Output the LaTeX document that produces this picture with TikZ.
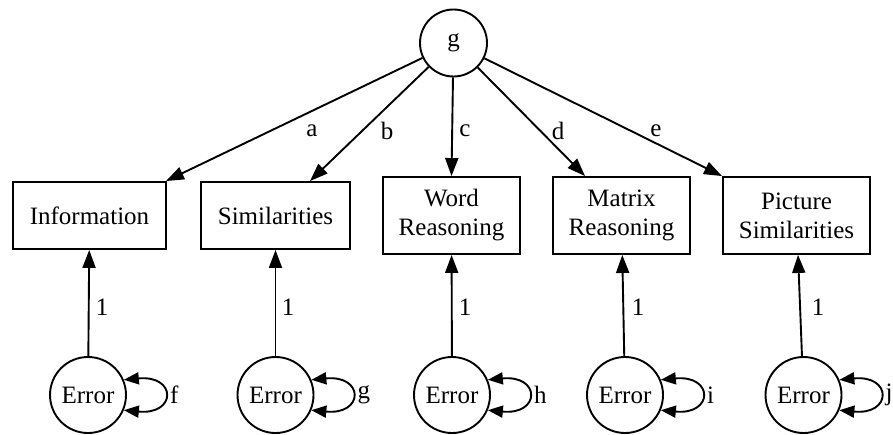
\documentclass[tikz,border=0pt]{standalone}
\usepackage{fontspec}
\newfontfamily\diagfont{Liberation Serif}
\usetikzlibrary{arrows.meta}
\begin{document}
\begin{tikzpicture}[x=1pt,y=-1pt,
  every node/.style={font=\diagfont\fontsize{25}{30}\selectfont, inner sep=0pt},
  latent/.style={draw, circle, line width=1.9pt},
  obs/.style={draw, rectangle, line width=1.9pt, align=center, minimum height=67pt},
  obs2/.style={obs, minimum height=77pt},
  arr/.style={line width=1.9pt, -{Triangle[length=18pt,width=13pt]}},
  loopy/.style={line width=1.9pt, {Triangle[length=15pt,width=12pt]}-{Triangle[length=15pt,width=12pt]}},
  lab/.style={}]
\useasboundingbox (0,0) rectangle (893,435);

% factor
\node[latent, minimum size=67pt] (g) at (453.5,43) {g};

% indicators
\node[obs, minimum width=153pt] (info) at (89.5,215.5) {Information};
\node[obs, minimum width=149pt] (sim) at (275.5,215.5) {Similarities};
\node[obs2, minimum width=137pt] (word) at (451.5,215.5) {Word\\[-1pt]Reasoning};
\node[obs2, minimum width=137pt] (mat) at (621.5,215.5) {Matrix\\[-1pt]Reasoning};
\node[obs2, minimum width=147pt] (pic) at (796.5,215.5) {Picture\\[-1pt]Similarities};

% residuals
\foreach \n/\x in {e1/88, e2/275.5, e3/452, e4/625, e5/803.5}
  \node[latent, minimum size=76pt] (\n) at (\x,395) {Error};

% loadings
\draw[arr] (g) -- ([xshift=-1pt]info.north east);
\draw[arr] (g) -- ([xshift=34.5pt]sim.north);
\draw[arr] (g) -- (word.north);
\draw[arr] (g) -- ([xshift=-36.5pt]mat.north);
\draw[arr] (g) -- (pic.north west);

\node[lab] (la) at (312,131) {a};
\node[lab] (lb) at (387,131) {b};
\node[lab] (lc) at (465,131) {c};
\node[lab] (ld) at (558,131) {d};
\node[lab] (le) at (656,131) {e};

% error paths
\draw[arr] (e1) -- (info);
\draw[arr] (e2) -- (sim);
\draw[arr] (e3) -- (word);
\draw[arr] (e4) -- (mat);
\draw[arr] (e5) -- (pic);

\node[lab] (o1) at (102,307) {1};
\node[lab] (o2) at (288,307) {1};
\node[lab] (o3) at (465,307) {1};
\node[lab] (o4) at (638,307) {1};
\node[lab] (o5) at (818,307) {1};

% variances
\foreach \n/\l in {e1/f, e2/g, e3/h, e4/i, e5/j}{
  \draw[loopy] (\n.23) .. controls +(53,-5) and +(53,5) .. (\n.-23);
  \node[lab, anchor=west] (v\n) at ([xshift=82pt]\n.center) {\l};
}
\end{tikzpicture}
\end{document}
